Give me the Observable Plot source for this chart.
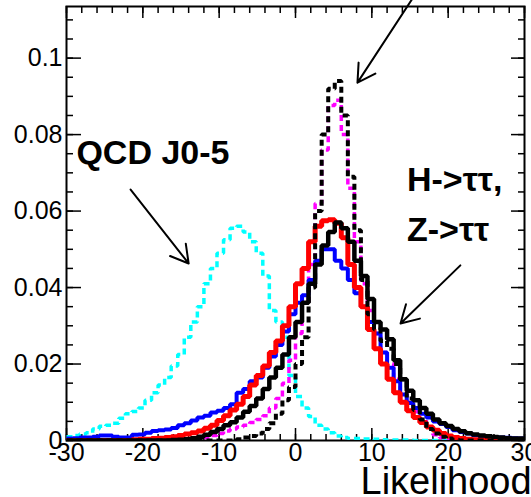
<!DOCTYPE html>
<html><head><meta charset="utf-8">
<script src="https://cdn.jsdelivr.net/npm/d3@7"></script>
<script src="https://cdn.jsdelivr.net/npm/@observablehq/plot@0.6"></script>
<style>html,body{margin:0;padding:0;background:#fff;overflow:hidden}svg{display:block}</style>
</head><body><div id="chart"></div>
<script>
// Histogram range and binning (70 bins from -30 to 30)
const xDomain = [-30, 30];
const yDomain = [0, 0.1135];

// Bin contents, left to right
const qcdCyan = [0.001,0.0013,0.0017,0.002,0.003,0.0037,0.004,0.0045,0.0058,0.007,
  0.0076,0.0085,0.0105,0.0125,0.0145,0.0165,0.0195,0.0225,0.027,0.031,
  0.035,0.041,0.045,0.049,0.0525,0.0555,0.056,0.0545,0.052,0.049,
  0.043,0.034,0.031,0.027,0.017,0.0115,0.0085,0.0063,0.004,0.003,
  0.002,0.0012,0.0008,0.0005,0.0005,0.0004,0.0004,0.0003,0.0002,0.0001,
  0.0001,0.0001,0.0001,0,0,0,0,0,0,0,
  0,0,0,0,0,0,0,0,0,0];
const magentaDashed = [0,0,0,0,0,0,0,0,0,0,
  0,0,0,0,0,0,0,0,0,0.0003,
  0.0005,0.0008,0.0013,0.0018,0.0025,0.003,0.0035,0.004,0.0047,0.0055,
  0.0065,0.0085,0.011,0.015,0.021,0.028,0.036,0.046,0.062,0.076,
  0.0876,0.089,0.080,0.066,0.052,0.041,0.034,0.028,0.023,0.020,
  0.016,0.013,0.010,0.0075,0.0055,0.0035,0.0015,0.0008,0.0003,0,
  0,0,0,0,0,0,0,0,0,0];
const blackDashed = [0,0,0,0,0,0,0,0,0,0,
  0,0,0,0,0,0,0,0,0,0,
  0,0,0,0,0,0,0.0003,0.0008,0.0012,0.0018,
  0.003,0.0045,0.007,0.0105,0.014,0.020,0.027,0.040,0.060,0.080,
  0.092,0.094,0.085,0.069,0.055,0.042,0.033,0.029,0.026,0.024,
  0.020,0.016,0.011,0.008,0.0055,0.003,0.0018,0.001,0.0005,0.0002,
  0,0,0,0,0,0,0,0,0,0];
const blueSolid = [0.0005,0.0006,0.0008,0.0008,0.001,0.0013,0.0013,0.001,0.0008,0.0008,
  0.0015,0.0016,0.002,0.0025,0.0027,0.0029,0.0033,0.004,0.0045,0.0052,
  0.006,0.0065,0.0073,0.0078,0.0085,0.0095,0.0125,0.0135,0.0155,0.0165,
  0.019,0.022,0.025,0.0285,0.033,0.036,0.038,0.042,0.047,0.050,
  0.050,0.047,0.045,0.042,0.0385,0.035,0.031,0.028,0.023,0.019,
  0.0155,0.012,0.0098,0.0085,0.007,0.006,0.005,0.0043,0.0035,0.0027,
  0.0022,0.0018,0.0014,0.0012,0.001,0.0009,0.0008,0.0007,0.0006,0.0005];
const redSolid = [0,0,0,0,0,0,0,0,0,0,
  0.0002,0.0003,0.0003,0.0005,0.0006,0.0008,0.001,0.0013,0.0017,0.002,
  0.0025,0.0032,0.004,0.0052,0.0065,0.008,0.0095,0.0115,0.0145,0.017,
  0.0195,0.023,0.026,0.030,0.035,0.041,0.045,0.052,0.056,0.0575,
  0.0577,0.0568,0.053,0.046,0.040,0.035,0.029,0.024,0.020,0.016,
  0.0125,0.010,0.0078,0.006,0.0047,0.0035,0.0027,0.0018,0.0012,0.0008,
  0.0005,0.0003,0.0002,0.0001,0,0,0,0,0,0];
const blackSolid = [0,0,0,0,0,0,0,0,0,0,
  0,0,0,0,0,0,0.0001,0.0002,0.0003,0.0006,
  0.001,0.0015,0.0022,0.003,0.004,0.0048,0.006,0.0075,0.009,0.011,
  0.0135,0.0165,0.019,0.0225,0.027,0.031,0.036,0.041,0.046,0.051,
  0.0545,0.057,0.0555,0.052,0.047,0.043,0.037,0.031,0.029,0.0265,
  0.021,0.016,0.013,0.0105,0.0085,0.007,0.0055,0.0045,0.0038,0.003,
  0.0024,0.0019,0.0016,0.0013,0.0011,0.0009,0.0008,0.0006,0.0005,0.0005];

// Axis ticks and labels
const xMajor = [-30, -20, -10, 0, 10, 20, 30];
const xTickLabels = ["-30", "-20", "-10", "0", "10", "20", "30"];
const yMajor = [0, 0.02, 0.04, 0.06, 0.08, 0.1];
const yTickLabels = ["0", "0.02", "0.04", "0.06", "0.08", "0.1"];
const xMinor = d3.range(-30, 30.001, 2);
const yMinor = d3.range(0, 0.1131, 0.005);

// Annotations
const noteText = ["QCD J0-5", "H->\u03c4\u03c4,", "Z->\u03c4\u03c4"];
const noteX = [-28.7, 14.6, 14.6];
const noteY = [0.0752, 0.0681, 0.0551];
const arrowX1 = [-21.6, 15.46, 21.6];
const arrowY1 = [0.0656, 0.116, 0.0458];
const arrowX2 = [-14.0, 8.12, 13.76];
const arrowY2 = [0.0463, 0.0936, 0.0306];
const axisTitle = "Likelihood";

const series = [
  {values: qcdCyan, stroke: "#00ffff", width: 3.5, dash: "6,4"},
  {values: magentaDashed, stroke: "#ff00ff", width: 3.5, dash: "6,4"},
  {values: blueSolid, stroke: "#0000ff", width: 4, dash: null},
  {values: redSolid, stroke: "#ff0000", width: 5, dash: null},
  {values: blackDashed, stroke: "#000000", width: 4, dash: "6,4"},
  {values: blackSolid, stroke: "#000000", width: 4.5, dash: null}
];

function stepPoints(values) {
  const n = values.length, w = (xDomain[1] - xDomain[0]) / n;
  const pts = values.map((v, i) => ({x: xDomain[0] + i * w, y: v}));
  pts.push({x: xDomain[1], y: values[n - 1]});
  return pts;
}

const W = 531, H = 497, mL = 66, mR = 7, mT = 6, mB = 57;
const iw = W - mL - mR, ih = H - mT - mB;
const font = "Liberation Sans, Arial, sans-serif";

const notes = noteText.map((t, i) => ({t, x: noteX[i], y: noteY[i]}));
const arrows = arrowX1.map((x1, i) => ({x1, y1: arrowY1[i], x2: arrowX2[i], y2: arrowY2[i]}));

const chart = Plot.plot({
  width: W, height: H,
  marginLeft: mL, marginRight: mR, marginTop: mT, marginBottom: mB,
  x: {domain: xDomain, label: null},
  y: {domain: yDomain, label: null},
  style: {fontFamily: font, background: "white", overflow: "visible"},
  marks: [
    Plot.frame({stroke: "black", strokeWidth: 2}),
    // inward ticks
    Plot.tickX(xMajor, {x: d => d, insetTop: ih - 12, stroke: "black", strokeWidth: 1.5}),
    Plot.tickX(xMinor, {x: d => d, insetTop: ih - 6, stroke: "black", strokeWidth: 1.5}),
    Plot.tickX(xMajor, {x: d => d, insetBottom: ih - 12, stroke: "black", strokeWidth: 1.5}),
    Plot.tickX(xMinor, {x: d => d, insetBottom: ih - 7, stroke: "black", strokeWidth: 1.5}),
    Plot.tickY(yMajor, {y: d => d, insetRight: iw - 15, stroke: "black", strokeWidth: 1.5}),
    Plot.tickY(yMinor, {y: d => d, insetRight: iw - 7, stroke: "black", strokeWidth: 1.5}),
    Plot.tickY(yMajor, {y: d => d, insetLeft: iw - 13, stroke: "black", strokeWidth: 1.5}),
    Plot.tickY(yMinor, {y: d => d, insetLeft: iw - 6, stroke: "black", strokeWidth: 1.5}),
    Plot.axisX({ticks: xMajor, tickSize: 0, tickPadding: 3, fontSize: 25, label: null,
      tickFormat: d => xTickLabels[xMajor.indexOf(d)], fill: "black"}),
    Plot.axisY({ticks: yMajor, tickSize: 0, tickPadding: 4, fontSize: 25, label: null,
      tickFormat: d => yTickLabels[yMajor.indexOf(d)], fill: "black"}),
    ...series.map(s => Plot.line(stepPoints(s.values), {
      x: "x", y: "y", curve: "step-after", stroke: s.stroke, strokeWidth: s.width,
      strokeDasharray: s.dash, strokeLinejoin: "miter", strokeLinecap: "butt", clip: true
    })),
    Plot.arrow(arrows, {x1: "x1", y1: "y1", x2: "x2", y2: "y2", stroke: "black",
      strokeWidth: 2, headLength: 15}),
    Plot.text(notes, {x: "x", y: "y", text: "t", textAnchor: "start", fontSize: 34,
      fontWeight: "bold", fill: "black"}),
    Plot.text([axisTitle], {text: d => d, frameAnchor: "bottom-right", dx: -164, dy: 41,
      textAnchor: "start", lineAnchor: "middle", fontSize: 38, fill: "black"})
  ]
});
document.getElementById("chart").appendChild(chart);
</script>
</body></html>
